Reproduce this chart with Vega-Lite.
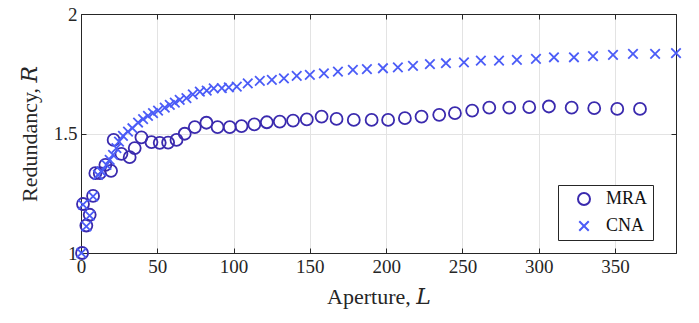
{
  "$schema": "https://vega.github.io/schema/vega-lite/v6.json",
  "width": 595,
  "height": 239,
  "autosize": {"type": "none"},
  "padding": {"left": 81, "top": 14, "right": 23, "bottom": 70},
  "background": "white",
  "config": {
    "font": "Liberation Serif",
    "view": {"stroke": "#262626", "strokeWidth": 1},
    "axis": {
      "labelFont": "Liberation Serif",
      "titleFont": "Liberation Serif, DejaVu Serif",
      "labelFontSize": 19,
      "titleFontSize": 22,
      "titleFontWeight": "normal",
      "labelColor": "#262626",
      "titleColor": "#262626",
      "domainColor": "#262626",
      "tickColor": "#262626",
      "gridColor": "#e3e3e3",
      "gridWidth": 1
    }
  },
  "data": {
    "values": [
      {"series": "MRA", "L": 0.7, "R": 1.0},
      {"series": "MRA", "L": 1.3, "R": 1.205},
      {"series": "MRA", "L": 3.5, "R": 1.115},
      {"series": "MRA", "L": 5.7, "R": 1.16},
      {"series": "MRA", "L": 7.9, "R": 1.239},
      {"series": "MRA", "L": 9.4, "R": 1.334},
      {"series": "MRA", "L": 12.3, "R": 1.334},
      {"series": "MRA", "L": 16.0, "R": 1.369},
      {"series": "MRA", "L": 19.7, "R": 1.344},
      {"series": "MRA", "L": 21.4, "R": 1.473},
      {"series": "MRA", "L": 26.5, "R": 1.415},
      {"series": "MRA", "L": 31.9, "R": 1.401},
      {"series": "MRA", "L": 35.2, "R": 1.439},
      {"series": "MRA", "L": 39.6, "R": 1.484},
      {"series": "MRA", "L": 46.2, "R": 1.464},
      {"series": "MRA", "L": 51.6, "R": 1.461},
      {"series": "MRA", "L": 57.1, "R": 1.462},
      {"series": "MRA", "L": 62.6, "R": 1.473},
      {"series": "MRA", "L": 68.0, "R": 1.499},
      {"series": "MRA", "L": 74.6, "R": 1.527},
      {"series": "MRA", "L": 82.2, "R": 1.545},
      {"series": "MRA", "L": 89.5, "R": 1.527},
      {"series": "MRA", "L": 97.5, "R": 1.527},
      {"series": "MRA", "L": 105.2, "R": 1.531},
      {"series": "MRA", "L": 113.6, "R": 1.538},
      {"series": "MRA", "L": 121.8, "R": 1.547},
      {"series": "MRA", "L": 130.3, "R": 1.55},
      {"series": "MRA", "L": 139.0, "R": 1.554},
      {"series": "MRA", "L": 148.0, "R": 1.559},
      {"series": "MRA", "L": 157.7, "R": 1.571},
      {"series": "MRA", "L": 167.5, "R": 1.561},
      {"series": "MRA", "L": 178.8, "R": 1.557},
      {"series": "MRA", "L": 190.5, "R": 1.557},
      {"series": "MRA", "L": 201.3, "R": 1.557},
      {"series": "MRA", "L": 212.3, "R": 1.564},
      {"series": "MRA", "L": 223.2, "R": 1.571},
      {"series": "MRA", "L": 234.8, "R": 1.578},
      {"series": "MRA", "L": 245.1, "R": 1.585},
      {"series": "MRA", "L": 256.4, "R": 1.596},
      {"series": "MRA", "L": 267.6, "R": 1.608},
      {"series": "MRA", "L": 280.7, "R": 1.608},
      {"series": "MRA", "L": 293.8, "R": 1.61},
      {"series": "MRA", "L": 306.7, "R": 1.613},
      {"series": "MRA", "L": 321.6, "R": 1.608},
      {"series": "MRA", "L": 336.4, "R": 1.606},
      {"series": "MRA", "L": 351.5, "R": 1.603},
      {"series": "MRA", "L": 366.4, "R": 1.603},
      {"series": "CNA", "L": 0.3, "R": 1.0},
      {"series": "CNA", "L": 1.3, "R": 1.202},
      {"series": "CNA", "L": 3.5, "R": 1.111},
      {"series": "CNA", "L": 5.7, "R": 1.156},
      {"series": "CNA", "L": 7.9, "R": 1.237},
      {"series": "CNA", "L": 11.1, "R": 1.327},
      {"series": "CNA", "L": 13.4, "R": 1.341},
      {"series": "CNA", "L": 16.7, "R": 1.369},
      {"series": "CNA", "L": 18.8, "R": 1.39},
      {"series": "CNA", "L": 21.0, "R": 1.411},
      {"series": "CNA", "L": 23.2, "R": 1.439},
      {"series": "CNA", "L": 24.9, "R": 1.466},
      {"series": "CNA", "L": 27.5, "R": 1.49},
      {"series": "CNA", "L": 30.8, "R": 1.508},
      {"series": "CNA", "L": 33.7, "R": 1.522},
      {"series": "CNA", "L": 37.4, "R": 1.546},
      {"series": "CNA", "L": 40.7, "R": 1.56},
      {"series": "CNA", "L": 43.9, "R": 1.574},
      {"series": "CNA", "L": 47.2, "R": 1.585},
      {"series": "CNA", "L": 50.5, "R": 1.596},
      {"series": "CNA", "L": 54.9, "R": 1.608},
      {"series": "CNA", "L": 58.2, "R": 1.62},
      {"series": "CNA", "L": 61.5, "R": 1.629},
      {"series": "CNA", "L": 64.7, "R": 1.641},
      {"series": "CNA", "L": 69.1, "R": 1.648},
      {"series": "CNA", "L": 73.3, "R": 1.664},
      {"series": "CNA", "L": 77.9, "R": 1.675},
      {"series": "CNA", "L": 82.4, "R": 1.679},
      {"series": "CNA", "L": 87.0, "R": 1.689},
      {"series": "CNA", "L": 92.3, "R": 1.69},
      {"series": "CNA", "L": 96.9, "R": 1.693},
      {"series": "CNA", "L": 102.1, "R": 1.696},
      {"series": "CNA", "L": 109.3, "R": 1.71},
      {"series": "CNA", "L": 117.2, "R": 1.72},
      {"series": "CNA", "L": 125.1, "R": 1.724},
      {"series": "CNA", "L": 133.0, "R": 1.731},
      {"series": "CNA", "L": 141.4, "R": 1.741},
      {"series": "CNA", "L": 150.0, "R": 1.745},
      {"series": "CNA", "L": 159.2, "R": 1.752},
      {"series": "CNA", "L": 168.4, "R": 1.759},
      {"series": "CNA", "L": 178.2, "R": 1.766},
      {"series": "CNA", "L": 187.4, "R": 1.769},
      {"series": "CNA", "L": 197.9, "R": 1.773},
      {"series": "CNA", "L": 207.7, "R": 1.777},
      {"series": "CNA", "L": 217.6, "R": 1.783},
      {"series": "CNA", "L": 228.7, "R": 1.79},
      {"series": "CNA", "L": 239.2, "R": 1.794},
      {"series": "CNA", "L": 251.0, "R": 1.798},
      {"series": "CNA", "L": 262.1, "R": 1.805},
      {"series": "CNA", "L": 274.0, "R": 1.805},
      {"series": "CNA", "L": 285.7, "R": 1.808},
      {"series": "CNA", "L": 298.2, "R": 1.812},
      {"series": "CNA", "L": 310.0, "R": 1.819},
      {"series": "CNA", "L": 323.1, "R": 1.819},
      {"series": "CNA", "L": 335.6, "R": 1.824},
      {"series": "CNA", "L": 348.7, "R": 1.829},
      {"series": "CNA", "L": 361.8, "R": 1.833},
      {"series": "CNA", "L": 376.3, "R": 1.833},
      {"series": "CNA", "L": 390.0, "R": 1.836}
    ]
  },
  "layer": [
    {
      "mark": {"type": "point", "filled": false, "strokeWidth": 1.8, "opacity": 1},
      "encoding": {
        "x": {
          "field": "L", "type": "quantitative",
          "scale": {"domain": [0, 390], "nice": false, "zero": false},
          "axis": {"title": "Aperture, 𝐿", "values": [0, 50, 100, 150, 200, 250, 300, 350], "tickSize": -5, "labelPadding": 9, "titlePadding": 10, "labelFlush": false}
        },
        "y": {
          "field": "R", "type": "quantitative",
          "scale": {"domain": [1, 2], "nice": false, "zero": false},
          "axis": {"title": "Redundancy, 𝑅", "values": [1, 1.5, 2], "labelExpr": "'' + datum.value", "tickSize": -5, "labelPadding": 9, "titlePadding": 12}
        },
        "color": {
          "field": "series", "type": "nominal",
          "scale": {"domain": ["MRA", "CNA"], "range": ["#3a2aae", "#4b5cf7"]},
          "legend": {
            "title": null, "orient": "none", "legendX": 477, "legendY": 171,
            "labelFont": "Liberation Serif", "labelFontSize": 18, "labelColor": "#111111",
            "fillColor": "white", "strokeColor": "#262626", "padding": 5,
            "rowPadding": 8, "labelOffset": 13, "symbolStrokeWidth": 2, "symbolOffset": 12
          }
        },
        "shape": {
          "field": "series", "type": "nominal",
          "scale": {"domain": ["MRA", "CNA"], "range": ["circle", "M-1,-1L1,1M-1,1L1,-1"]}
        },
        "size": {
          "field": "series", "type": "nominal",
          "scale": {"domain": ["MRA", "CNA"], "range": [144, 90]}
        }
      }
    },
    {
      "mark": {"type": "point", "opacity": 0},
      "encoding": {
        "x": {
          "field": "L", "type": "quantitative",
          "axis": {"orient": "top", "title": null, "labels": false, "grid": false, "values": [0, 50, 100, 150, 200, 250, 300, 350], "tickSize": -5}
        },
        "y": {
          "field": "R", "type": "quantitative",
          "axis": {"orient": "right", "title": null, "labels": false, "grid": false, "values": [1, 1.5, 2], "tickSize": -5}
        }
      }
    }
  ],
  "resolve": {"axis": {"x": "independent", "y": "independent"}}
}
